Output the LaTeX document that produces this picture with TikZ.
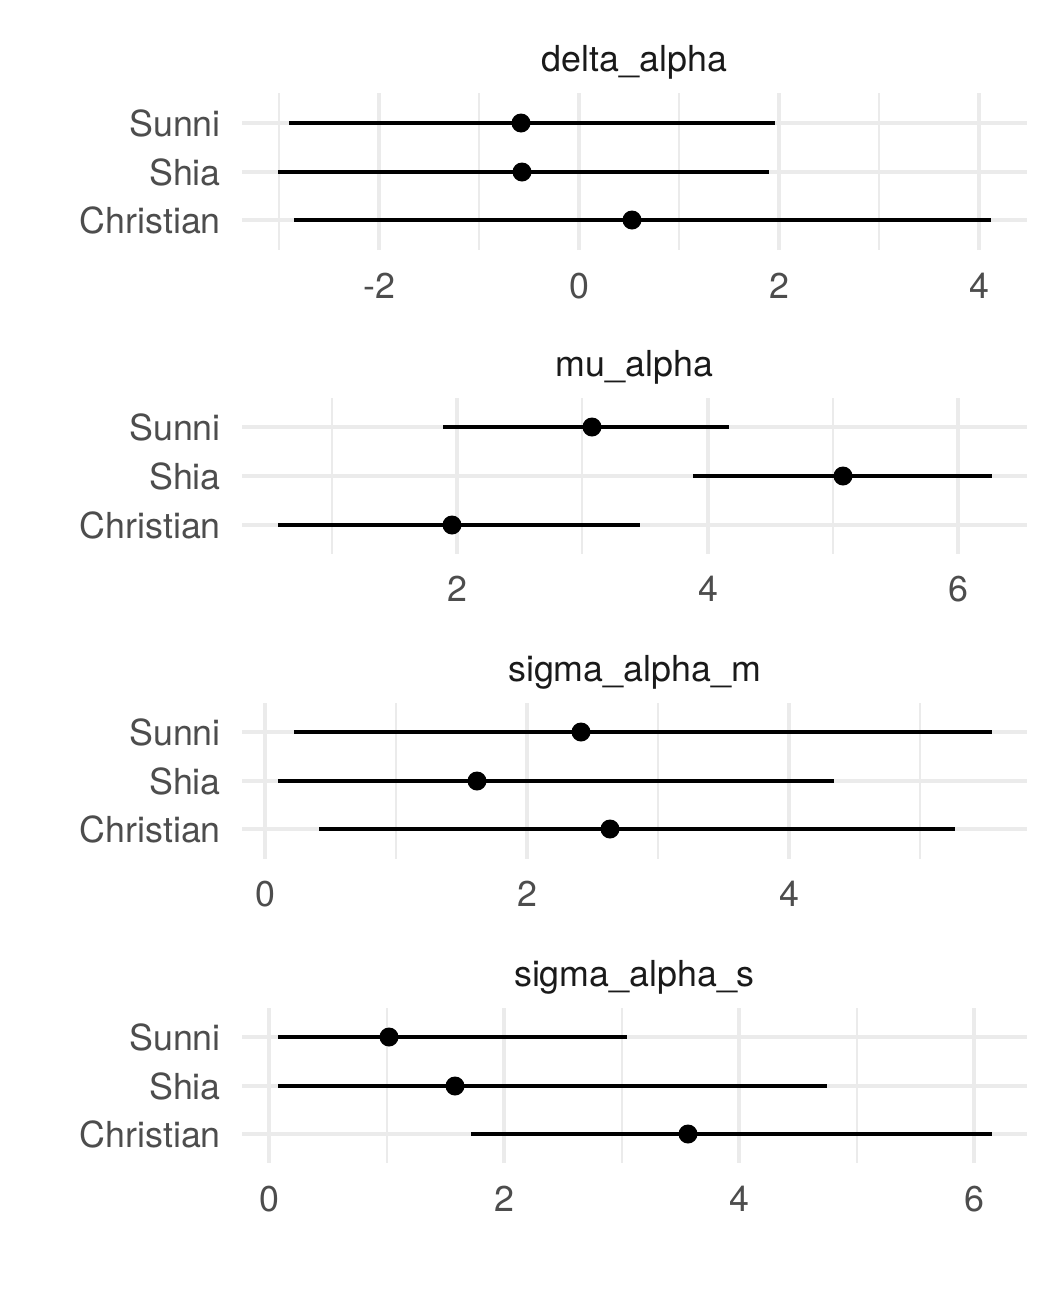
\documentclass[tikz,border=0pt]{standalone}
\usepackage{fontspec}
\setmainfont{TeX Gyre Heros}
\definecolor{gridc}{HTML}{EBEBEB}
\definecolor{axtext}{HTML}{4D4D4D}
\definecolor{titletext}{HTML}{1A1A1A}
\tikzset{
  majorgrid/.style={draw=gridc, line width=4pt},
  minorgrid/.style={draw=gridc, line width=2.6pt},
  interval/.style={draw=black, line width=4.2pt},
  estpoint/.style={circle, fill=black, inner sep=0pt, minimum size=19pt},
  ylab/.style={anchor=base east, inner sep=0pt, text=axtext, font=\fontsize{35.8}{42}\selectfont},
  xlab/.style={anchor=base, inner sep=0pt, text=axtext, font=\fontsize{35.8}{42}\selectfont},
  ptitle/.style={anchor=base, inner sep=0pt, text=titletext, font=\fontsize{35.8}{42}\selectfont},
}
\begin{document}
\begin{tikzpicture}[x=1pt, y=-1pt]
\useasboundingbox (0,0) rectangle (1050,1296);
\fill[white] (0,0) rectangle (1050,1296);

% ---------- Panel 1: delta_alpha ----------
\foreach \x in {279,479,679,879} \draw[minorgrid] (\x,93) -- (\x,250);
\foreach \x in {379,579,779,979} \draw[majorgrid] (\x,93) -- (\x,250);
\foreach \y in {123,172,220} \draw[majorgrid] (242,\y) -- (1027,\y);
\node[ptitle] (t1) at (634.5,71) {delta\_alpha};
\node[ylab] (p1sunni) at (221,136) {Sunni};
\node[ylab] (p1shia) at (221,185) {Shia};
\node[ylab] (p1christian) at (221,233) {Christian};
\node[xlab] (p1xa) at (379,298) {-2};
\node[xlab] (p1xb) at (579,298) {0};
\node[xlab] (p1xc) at (779,298) {2};
\node[xlab] (p1xd) at (979,298) {4};
\coordinate (p1s0) at (289,123); \coordinate (p1s1) at (775,123);
\coordinate (p1h0) at (278,172); \coordinate (p1h1) at (769,172);
\coordinate (p1c0) at (294,220); \coordinate (p1c1) at (991,220);
\draw[interval] (p1s0) -- (p1s1);
\draw[interval] (p1h0) -- (p1h1);
\draw[interval] (p1c0) -- (p1c1);
\node[estpoint] (p1sp) at (521,123) {};
\node[estpoint] (p1hp) at (522,172) {};
\node[estpoint] (p1cp) at (632,220) {};

% ---------- Panel 2: mu_alpha ----------
\foreach \x in {332,582,833} \draw[minorgrid] (\x,398) -- (\x,554);
\foreach \x in {457,708,958} \draw[majorgrid] (\x,398) -- (\x,554);
\foreach \y in {427,476,525} \draw[majorgrid] (242,\y) -- (1027,\y);
\node[ptitle] (t2) at (634.5,376) {mu\_alpha};
\node[ylab] (p2sunni) at (221,440) {Sunni};
\node[ylab] (p2shia) at (221,489) {Shia};
\node[ylab] (p2christian) at (221,538) {Christian};
\node[xlab] (p2xa) at (457,601) {2};
\node[xlab] (p2xb) at (708,601) {4};
\node[xlab] (p2xc) at (958,601) {6};
\coordinate (p2s0) at (443,427); \coordinate (p2s1) at (729,427);
\coordinate (p2h0) at (693,476); \coordinate (p2h1) at (992,476);
\coordinate (p2c0) at (278,525); \coordinate (p2c1) at (640,525);
\draw[interval] (p2s0) -- (p2s1);
\draw[interval] (p2h0) -- (p2h1);
\draw[interval] (p2c0) -- (p2c1);
\node[estpoint] (p2sp) at (592,427) {};
\node[estpoint] (p2hp) at (843,476) {};
\node[estpoint] (p2cp) at (452,525) {};

% ---------- Panel 3: sigma_alpha_m ----------
\foreach \x in {396,658,920} \draw[minorgrid] (\x,703) -- (\x,859);
\foreach \x in {265,527,789} \draw[majorgrid] (\x,703) -- (\x,859);
\foreach \y in {732,781,829} \draw[majorgrid] (242,\y) -- (1027,\y);
\node[ptitle] (t3) at (634.5,681) {sigma\_alpha\_m};
\node[ylab] (p3sunni) at (221,745) {Sunni};
\node[ylab] (p3shia) at (221,794) {Shia};
\node[ylab] (p3christian) at (221,842) {Christian};
\node[xlab] (p3xa) at (265,906) {0};
\node[xlab] (p3xb) at (527,906) {2};
\node[xlab] (p3xc) at (789,906) {4};
\coordinate (p3s0) at (294,732); \coordinate (p3s1) at (992,732);
\coordinate (p3h0) at (278,781); \coordinate (p3h1) at (834,781);
\coordinate (p3c0) at (319,829); \coordinate (p3c1) at (955,829);
\draw[interval] (p3s0) -- (p3s1);
\draw[interval] (p3h0) -- (p3h1);
\draw[interval] (p3c0) -- (p3c1);
\node[estpoint] (p3sp) at (581,732) {};
\node[estpoint] (p3hp) at (477,781) {};
\node[estpoint] (p3cp) at (610,829) {};

% ---------- Panel 4: sigma_alpha_s ----------
\foreach \x in {387,622,857} \draw[minorgrid] (\x,1008) -- (\x,1163);
\foreach \x in {269,504,739,974} \draw[majorgrid] (\x,1008) -- (\x,1163);
\foreach \y in {1037,1086,1134} \draw[majorgrid] (242,\y) -- (1027,\y);
\node[ptitle] (t4) at (634.5,986) {sigma\_alpha\_s};
\node[ylab] (p4sunni) at (221,1050) {Sunni};
\node[ylab] (p4shia) at (221,1099) {Shia};
\node[ylab] (p4christian) at (221,1147) {Christian};
\node[xlab] (p4xa) at (269,1211) {0};
\node[xlab] (p4xb) at (504,1211) {2};
\node[xlab] (p4xc) at (739,1211) {4};
\node[xlab] (p4xd) at (974,1211) {6};
\coordinate (p4s0) at (278,1037); \coordinate (p4s1) at (627,1037);
\coordinate (p4h0) at (278,1086); \coordinate (p4h1) at (827,1086);
\coordinate (p4c0) at (471,1134); \coordinate (p4c1) at (992,1134);
\draw[interval] (p4s0) -- (p4s1);
\draw[interval] (p4h0) -- (p4h1);
\draw[interval] (p4c0) -- (p4c1);
\node[estpoint] (p4sp) at (389,1037) {};
\node[estpoint] (p4hp) at (455,1086) {};
\node[estpoint] (p4cp) at (688,1134) {};
\end{tikzpicture}
\end{document}
